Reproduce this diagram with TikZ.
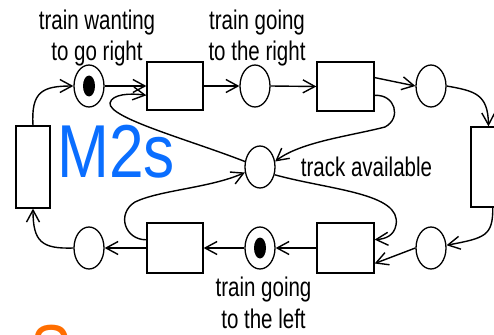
\documentclass[tikz,border=0pt]{standalone}
\usepackage{fontspec}
\setmainfont{Liberation Sans}[FakeStretch=0.76]
\newfontfamily\bigfont{Liberation Sans}[FakeStretch=0.83]
\usetikzlibrary{shapes.geometric,arrows.meta}
\definecolor{titleblue}{RGB}{10,110,255}
\definecolor{titleorange}{RGB}{255,110,0}
\begin{document}
\begin{tikzpicture}[x=1pt,y=-1pt,
  place/.style={draw, ellipse, line width=1.3pt, minimum width=30pt, minimum height=42pt, inner sep=0pt},
  trans/.style={draw, rectangle, line width=1.3pt, inner sep=0pt},
  token/.style={fill=black, ellipse, minimum width=12pt, minimum height=21pt, inner sep=0pt},
  arc/.style={line width=1.4pt, -{Straight Barb[length=12pt,width=13pt]}},
  lbl/.style={font=\fontsize{27}{31.5}\selectfont, align=center, anchor=base, inner sep=0pt},
  big/.style={font=\bigfont\fontsize{75}{80}\selectfont, anchor=base west, inner sep=0pt}]
\useasboundingbox (0,0) rectangle (494,334);
\clip (0,0) rectangle (494,334);

% places
\node[place] (p1) at (89,86) {};
\node[place] (p2) at (255,86) {};
\node[place] (p3) at (431,86) {};
\node[place] (p5) at (260,167) {};
\node[place] (p6) at (89,248) {};
\node[place] (p7) at (260,248) {};
\node[place] (p8) at (431,248) {};
\node[token] (k1) at (p1) {};
\node[token] (k7) at (p7) {};

% transitions
\node[trans, minimum width=56pt, minimum height=48pt] (t1) at (175,86) {};
\node[trans, minimum width=57pt, minimum height=49pt] (t2) at (345.5,86.5) {};
\node[trans, minimum width=35pt, minimum height=80pt] (t3) at (488.5,167) {};
\node[trans, minimum width=34pt, minimum height=82pt] (t4) at (33,167) {};
\node[trans, minimum width=56pt, minimum height=50pt] (t5) at (175,248) {};
\node[trans, minimum width=57pt, minimum height=50pt] (t6) at (345.5,248) {};

% labels (anchored at the baseline of their last line)
\node[lbl] (l1) at (97,61) {train wanting\\to go right};
\node[lbl] (l2) at (257,61) {train going\\to the right};
\node[lbl] (l3) at (366.5,176) {track available};
\node[lbl] (l4) at (263.5,328) {train going\\to the left};
\node[big, text=titleblue] (m2s) at (57,177) {M2s};
\node[big, text=titleorange] (s) at (30,377) {S};

% arcs, upper track
\draw[arc] (t4.north) .. controls (31,92) and (42,86) .. (p1.west);
\draw[arc] (p1.east) -- (t1.west);
\draw[arc] (p5.160) .. controls (190,140) and (108,118) .. (110,103)
                    .. controls (112,94) and (130,93) .. (t1.198);
\draw[arc] (t1.east) -- (p2.west);
\draw[arc] (p2.east) -- (t2.west);
\draw[arc] (t2.17) -- (p3.west);
\draw[arc] (t2.-17) .. controls (395,94) and (402,118) .. (385,127)
                    .. controls (350,136) and (300,142) .. (p5.20);
\draw[arc] (p3.east) .. controls (475,91) and (488,94) .. (t3.north);

% arcs, lower track
\draw[arc] (t3.-84) .. controls (493,236) and (485,238) .. (p8.10);
\draw[arc] (p8.west) -- (t6.-28);
\draw[arc] (p5.-28) .. controls (330,190) and (402,193) .. (396,225)
                    .. controls (394,236) and (385,239) .. (t6.16);
\draw[arc] (t6.west) -- (p7.east);
\draw[arc] (p7.west) -- (t5.east);
\draw[arc] (t5.west) -- (p6.east);
\draw[arc] (t5.164) .. controls (125,240) and (116,214) .. (135,202)
                    .. controls (160,190) and (210,188) .. (p5.200);
\draw[arc] (p6.west) .. controls (42,249) and (33,242) .. (t4.south);
\end{tikzpicture}
\end{document}
